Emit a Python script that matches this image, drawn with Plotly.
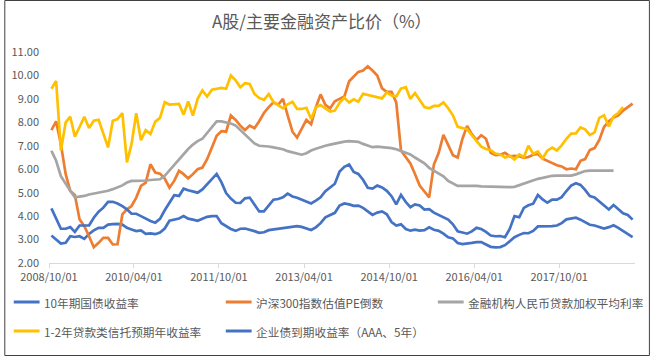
import pandas as pd
import plotly.graph_objects as go

# ---- data (monthly, first value = 2008/10) ----
start_month = "2008-10-01"

gov10y = [
    3.17, 3.00, 2.83, 2.86, 3.14, 3.11, 3.14, 3.03, 3.24, 3.39,
    3.50, 3.50, 3.64, 3.66, 3.67, 3.64, 3.50, 3.43, 3.36, 3.39,
    3.24, 3.26, 3.23, 3.30, 3.47, 3.80, 3.86, 3.90, 4.00, 3.89,
    3.85, 3.80, 3.89, 3.97, 4.00, 4.00, 3.70, 3.56, 3.45, 3.37,
    3.46, 3.47, 3.43, 3.36, 3.29, 3.31, 3.40, 3.43, 3.47, 3.50,
    3.53, 3.56, 3.57, 3.54, 3.47, 3.41, 3.52, 3.70, 3.95, 4.04,
    4.14, 4.45, 4.54, 4.50, 4.44, 4.45, 4.35, 4.20, 4.05, 4.15,
    4.20, 4.08, 3.75, 3.60, 3.65, 3.45, 3.38, 3.42, 3.38, 3.40,
    3.52, 3.42, 3.37, 3.25, 3.10, 3.05, 2.85, 2.81, 2.82, 2.86,
    2.89, 2.89, 2.79, 2.69, 2.67, 2.68, 2.76, 2.95, 3.10, 3.20,
    3.28, 3.27, 3.37, 3.56, 3.56, 3.57, 3.57, 3.60, 3.70, 3.86,
    3.89, 3.93, 3.85, 3.75, 3.63, 3.60, 3.55, 3.47, 3.53, 3.61,
    3.50, 3.37, 3.25, 3.10,
]

hs300_pe_inv = [
    7.67, 8.04, 7.07, 5.79, 5.07, 4.90, 3.86, 3.57, 3.14, 2.67,
    2.86, 3.07, 3.07, 2.79, 2.80, 4.07, 4.29, 4.43, 4.79, 5.29,
    5.43, 6.21, 5.86, 5.81, 5.60, 5.21, 5.50, 5.93, 5.79, 5.61,
    5.79, 6.00, 6.07, 6.43, 6.93, 7.43, 7.62, 7.60, 8.29, 8.10,
    7.86, 7.67, 7.86, 7.75, 8.05, 8.40, 8.65, 8.85, 8.75, 9.00,
    8.30, 7.60, 7.35, 7.70, 8.10, 7.92, 8.64, 9.19, 8.75, 8.60,
    8.90, 9.00, 9.10, 9.75, 9.95, 10.15, 10.21, 10.39, 10.21, 10.00,
    9.45, 9.30, 9.30, 8.85, 6.80, 6.50, 6.25, 5.80, 5.30, 5.05,
    4.80, 6.20, 6.70, 7.47, 7.00, 6.60, 6.50, 7.30, 7.85, 7.50,
    7.25, 7.45, 7.30, 6.70, 6.60, 6.62, 6.70, 6.55, 6.57, 6.55,
    6.48, 6.52, 6.62, 6.65, 6.45, 6.35, 6.25, 6.17, 6.12, 6.00,
    6.03, 6.00, 6.36, 6.43, 6.82, 6.90, 7.25, 7.80, 8.05, 8.20,
    8.30, 8.50, 8.65, 8.80,
]

loan_rate = [
    6.79, 6.36, 5.70, 5.36, 5.08, 4.80, 4.82, 4.86, 4.92, 4.96,
    4.99, 5.03, 5.08, 5.15, 5.23, 5.31, 5.43, 5.50, 5.50, 5.50,
    5.52, 5.54, 5.56, 5.57, 5.72, 5.95, 6.16, 6.40, 6.66, 6.86,
    7.05, 7.20, 7.30, 7.55, 7.77, 8.04, 8.04, 8.00, 7.95, 7.86,
    7.67, 7.50, 7.30, 7.10, 7.00, 7.00, 6.97, 6.93, 6.90, 6.85,
    6.77, 6.72, 6.66, 6.62, 6.68, 6.80, 6.87, 6.95, 7.00, 7.05,
    7.10, 7.14, 7.18, 7.20, 7.20, 7.17, 7.08, 7.00, 6.94, 6.96,
    6.95, 6.93, 6.90, 6.85, 6.77, 6.69, 6.63, 6.50, 6.38, 6.25,
    6.06, 5.95, 5.83, 5.70, 5.50, 5.38, 5.29, 5.29, 5.30, 5.31,
    5.29, 5.27, 5.26, 5.25, 5.24, 5.24, 5.24, 5.24, 5.25, 5.32,
    5.40, 5.47, 5.55, 5.59, 5.63, 5.68, 5.72, 5.73, 5.73, 5.73,
    5.73, 5.78, 5.85, 5.92, 5.94, 5.94, 5.94, 5.94, 5.94, 5.94,
]

trust_yield = [
    9.43, 9.76, 6.80, 8.00, 8.24, 7.39, 7.80, 8.24, 7.76, 8.07,
    8.11, 7.50, 6.93, 8.07, 8.14, 8.39, 6.29, 7.07, 8.39, 7.24,
    7.67, 7.50, 8.03, 8.19, 8.86, 8.76, 8.78, 8.79, 8.33, 8.89,
    8.29, 9.00, 9.36, 9.10, 9.39, 9.43, 9.47, 9.43, 10.00, 9.79,
    9.50, 9.67, 9.64, 9.21, 9.04, 8.96, 9.21, 8.87, 8.75, 8.60,
    8.77, 8.88, 8.57, 8.57, 8.62, 8.14, 8.64, 8.74, 8.60, 8.46,
    8.50, 8.83, 9.05, 8.85, 8.98, 8.88, 9.22, 9.17, 9.10, 9.06,
    9.02, 9.28, 9.15, 9.10, 9.44, 9.50, 9.00, 9.25, 8.95, 8.65,
    8.60, 8.70, 8.70, 8.85, 8.60, 8.30, 7.81, 7.76, 7.71, 7.45,
    7.21, 6.96, 6.86, 6.81, 6.67, 6.63, 6.50, 6.57, 6.42, 6.63,
    6.52, 7.00, 6.65, 6.76, 6.47, 6.79, 6.92, 6.80, 7.02, 7.30,
    7.52, 7.53, 7.78, 7.70, 7.46, 7.57, 8.19, 8.30, 7.82, 8.25,
    8.40, 8.65,
]

corp_aaa5y = [
    4.33, 3.86, 3.46, 3.46, 3.53, 3.33, 3.60, 3.60, 3.60, 3.93,
    4.19, 4.36, 4.61, 4.61, 4.54, 4.43, 4.29, 4.10, 4.10, 4.00,
    3.89, 3.79, 3.72, 3.88, 4.25, 4.60, 4.89, 4.86, 5.17, 5.10,
    5.04, 5.00, 5.14, 5.36, 5.56, 5.80, 5.45, 4.98, 4.75, 4.57,
    4.56, 4.76, 4.79, 4.50, 4.20, 4.20, 4.45, 4.70, 4.73, 4.80,
    4.96, 4.84, 4.78, 4.71, 4.64, 4.54, 4.66, 4.80, 5.06, 5.24,
    5.38, 5.90, 6.10, 6.20, 5.88, 5.80, 5.55, 5.21, 5.17, 5.30,
    5.22, 5.08, 4.85, 4.50, 4.90, 4.60, 4.38, 4.50, 4.45, 4.28,
    4.30, 4.15, 4.05, 3.93, 3.85, 3.65, 3.35, 3.30, 3.25, 3.35,
    3.50, 3.45, 3.33, 3.17, 3.14, 3.15, 3.10, 3.45, 4.00, 3.95,
    4.35, 4.46, 4.53, 4.90, 4.71, 4.57, 4.70, 4.70, 4.81, 5.07,
    5.30, 5.40, 5.33, 5.12, 4.85, 4.80, 4.62, 4.42, 4.28, 4.47,
    4.29, 4.12, 4.05, 3.85,
]

series_names = [
    "10年期国债收益率",
    "沪深300指数估值PE倒数",
    "金融机构人民币贷款加权平均利率",
    "1-2年贷款类信托预期年收益率",
    "企业债到期收益率（AAA、5年）",
]

tick_dates = ["2008-10-01", "2010-04-01", "2011-10-01", "2013-04-01",
              "2014-10-01", "2016-04-01", "2017-10-01"]
tick_labels = ["2008/10/01", "2010/04/01", "2011/10/01", "2013/04/01",
               "2014/10/01", "2016/04/01", "2017/10/01"]
y_ticks = [2, 3, 4, 5, 6, 7, 8, 9, 10, 11]

# ---- figure ----
FONT = "Noto Sans CJK SC"
TXT = "#595959"
W, H = 650, 356
ML, MR, MT, MB = 45, 15, 52, 93
PW, PH = W - ML - MR, H - MT - MB

colors = ["#4472C4", "#ED7D31", "#A5A5A5", "#FFC000", "#4472C4"]
data = [gov10y, hs300_pe_inv, loan_rate, trust_yield, corp_aaa5y]

months = pd.date_range(start_month, periods=max(len(d) for d in data), freq="MS")


def px_to_paper_y(py):
    return (H - MB - py) / PH


def px_to_paper_x(px):
    return (px - ML) / PW


fig = go.Figure()
for name, vals, col in zip(series_names, data, colors):
    fig.add_trace(go.Scatter(
        x=months[:len(vals)], y=vals, name=name, mode="lines",
        line=dict(color=col, width=2.7),
        xperiod="M1", xperiodalignment="middle",
        showlegend=False,
    ))

# legend drawn as line samples + text (2 rows x 3 columns, like the original)
legend_slots = [(9.5, 302), (223, 302), (436.5, 302), (9.5, 331), (223, 331)]
shapes = []
annotations = []
for (lx, ly), name, col in zip(legend_slots, series_names, colors):
    shapes.append(dict(
        type="line", xref="paper", yref="paper",
        x0=px_to_paper_x(lx), x1=px_to_paper_x(lx + 26),
        y0=px_to_paper_y(ly), y1=px_to_paper_y(ly),
        line=dict(color=col, width=3),
    ))
    annotations.append(dict(
        text=name, xref="paper", yref="paper",
        x=px_to_paper_x(lx + 28), y=px_to_paper_y(ly),
        xanchor="left", yanchor="middle", showarrow=False,
        font=dict(family=FONT, size=11.7, color=TXT),
    ))

# outer chart border
shapes.append(dict(
    type="rect", xref="paper", yref="paper", layer="above",
    x0=px_to_paper_x(0.5), x1=px_to_paper_x(W - 0.5),
    y0=px_to_paper_y(H - 0.5), y1=px_to_paper_y(0.5),
    line=dict(color="#404040", width=1), fillcolor="rgba(0,0,0,0)",
))

fig.update_layout(
    width=W, height=H,
    margin=dict(l=ML, r=MR, t=MT, b=MB, pad=0),
    paper_bgcolor="white", plot_bgcolor="white",
    font=dict(family=FONT, color=TXT),
    showlegend=False,
    title=dict(text="A股/主要金融资产比价（%）", x=0.495, xref="container",
               xanchor="center", y=1 - 22 / H, yref="container", yanchor="middle",
               font=dict(family=FONT, size=17, color=TXT)),
    xaxis=dict(
        type="date", range=["2008-10-01", "2019-02-01"],
        tickvals=tick_dates, ticktext=tick_labels,
        showgrid=False, zeroline=False,
        showline=True, linecolor="#D9D9D9", linewidth=1,
        ticks="outside", ticklen=4, tickcolor="#D9D9D9", tickwidth=1,
        tickfont=dict(family=FONT, size=11, color=TXT),
    ),
    yaxis=dict(
        range=[2, 11], tickvals=y_ticks, tickformat=".2f",
        showgrid=False, zeroline=False, showline=False, ticks="",
        ticklabelstandoff=9,
        tickfont=dict(family=FONT, size=11, color=TXT),
    ),
    shapes=shapes,
    annotations=annotations,
)

fig.write_html("out.html", config={"displayModeBar": False},
               post_script="document.body.style.margin='0';")
